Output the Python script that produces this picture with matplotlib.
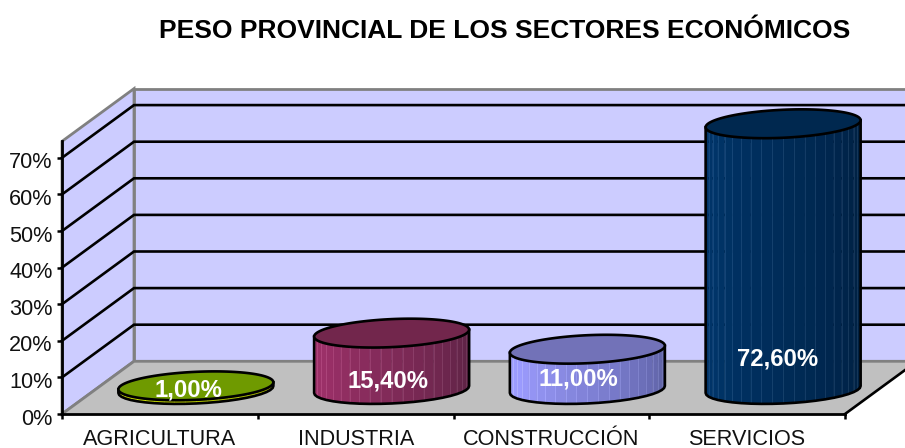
import matplotlib
matplotlib.use("Agg")
import matplotlib.pyplot as plt
from matplotlib.colors import to_rgb
from matplotlib.patches import Polygon
from matplotlib.transforms import ScaledTranslation
import numpy as np

plt.rcParams['font.family'] = ['Liberation Sans', 'DejaVu Sans']

title = "PESO PROVINCIAL DE LOS SECTORES ECONÓMICOS"
sectors = ["AGRICULTURA", "INDUSTRIA", "CONSTRUCCIÓN", "SERVICIOS"]
values = [1.0, 15.4, 11.0, 72.6]
value_labels = ["1,00%", "15,40%", "11,00%", "72,60%"]
y_ticks = [0, 10, 20, 30, 40, 50, 60, 70]
y_tick_labels = ["0%", "10%", "20%", "30%", "40%", "50%", "60%", "70%"]

side_light = ["#c8dc00", "#9c3068", "#9c9cff", "#003468"]
side_dark = ["#a0b000", "#582242", "#585c9c", "#001f40"]
top_colors = ["#6f9a00", "#72264c", "#7272b8", "#00284f"]

# pixel scale of the picture
PX_X = 195.75  # px per category
PX_Y = 3.66    # px per percent
X0, Y0 = 62, 414

depth_x = 72 / PX_X
depth_y = 14.4
y_top = 74.5
wall_end = 4 + 80 / PX_X

fig = plt.figure(figsize=(9.05, 4.48), dpi=100)
ax = fig.add_axes([0, 0, 1, 1])
ax.set_xlim(-X0 / PX_X, (905 - X0) / PX_X)
ax.set_ylim((Y0 - 448) / PX_Y, Y0 / PX_Y)
ax.patch.set_visible(False)

wall = "#ccccff"
edge = "#808080"
# walls and floor
ax.add_patch(Polygon([(0, 0), (depth_x, depth_y), (depth_x, y_top + depth_y), (0, y_top)],
                     fc=wall, ec=edge, lw=2, zorder=1))
ax.add_patch(Polygon([(depth_x, depth_y), (wall_end, depth_y), (wall_end, y_top + depth_y), (depth_x, y_top + depth_y)],
                     fc=wall, ec=edge, lw=2, zorder=1))
ax.add_patch(Polygon([(0, 0), (depth_x, depth_y), (wall_end, depth_y), (4 + depth_x, depth_y), (4, 0)],
                     fc="#c0c0c0", ec="none", zorder=1.1))
ax.plot([0, depth_x, wall_end], [0, depth_y, depth_y], color=edge, lw=2, zorder=1.2)
ax.plot([4, 4 + depth_x], [0, depth_y], color="black", lw=1.9, zorder=1.2)

# gridlines
for v in y_ticks[1:]:
    ax.plot([0, depth_x, wall_end], [v, v + depth_y, v + depth_y], color="black", lw=1.9, zorder=1.5,
            solid_joinstyle="miter")

# cylinders
half_w = 77.5 / PX_X
half_h = 14 / PX_Y
tilt = 3.5 / PX_Y
base_dx = 36 / PX_X
base_y = 6.7
n_facets = 22


def ring(cx, cy, t):
    return cx + half_w * np.cos(t), cy + tilt * np.cos(t) + half_h * np.sin(t)


# label offsets from the cylinder axis, px
label_dx = [-7.5, -3.5, -9.5, -6]
label_y_px = [390, 381, 379, 359]

for i, v in enumerate(values):
    cx = i + 0.5 + base_dx
    top_y = base_y + v
    t = np.linspace(np.pi, 2 * np.pi, n_facets + 1)
    xb, yb = ring(cx, base_y, t)
    xt, yt = ring(cx, top_y, t)
    c0 = np.array(to_rgb(side_light[i]))
    c1 = np.array(to_rgb(side_dark[i]))
    for k in range(n_facets):
        f = (k + 0.5) / n_facets
        shade = max(0, (f - 0.15) / 0.85)
        col = c0 * (1 - shade) + c1 * shade
        ax.add_patch(Polygon([(xb[k], yb[k]), (xb[k + 1], yb[k + 1]), (xt[k + 1], yt[k + 1]), (xt[k], yt[k])],
                             fc=col, ec=col, lw=0.3, zorder=3))
        if k > 0:
            ax.plot([xb[k], xt[k]], [yb[k], yt[k]], color=np.clip(col + 0.09, 0, 1), lw=0.6, zorder=3.1)
    # outline of the side
    ax.plot(np.r_[xt[0], xb, xt[-1]], np.r_[yt[0], yb, yt[-1]], color="black", lw=1.9, zorder=3.2)
    # top face
    tt = np.linspace(0, 2 * np.pi, 121)
    xe, ye = ring(cx, top_y, tt)
    ax.fill(xe, ye, fc=top_colors[i], ec="black", lw=1.9, zorder=3.3)
    ax.text(cx + label_dx[i] / PX_X, (Y0 - label_y_px[i]) / PX_Y, value_labels[i], color="white",
            fontsize=17.2, fontweight="bold", ha="center", va="center", zorder=4)

# axes
for s in ["top", "right"]:
    ax.spines[s].set_visible(False)
for s in ["left", "bottom"]:
    ax.spines[s].set_position(("data", 0))
    ax.spines[s].set_linewidth(2)
    ax.spines[s].set_zorder(2.5)
ax.spines["left"].set_bounds(0, y_top)
ax.spines["bottom"].set_bounds(0, 4)
ax.set_yticks(y_ticks)
ax.set_yticklabels(y_tick_labels, fontsize=15.6, color="#111111")
ax.set_xticks(range(5))
ax.set_xticklabels([])
ax.set_xticks(np.arange(len(sectors)) + 0.5, labels=sectors, minor=True, fontsize=15.6, color="#111111")
ax.tick_params(axis="y", direction="out", length=3.6, width=1.8, pad=3)
ax.tick_params(axis="x", which="major", direction="out", length=3.6, width=1.8)
ax.tick_params(axis="x", which="minor", length=0, pad=10.5)
for lab in ax.get_yticklabels():
    lab.set_transform(lab.get_transform() + ScaledTranslation(0, -2.5 / 100, fig.dpi_scale_trans))

fig.text(505 / 905, 1 - 31 / 448, title, fontsize=19, fontweight="bold", ha="center", va="center", color="black")

fig.savefig("out.png", dpi=100)
